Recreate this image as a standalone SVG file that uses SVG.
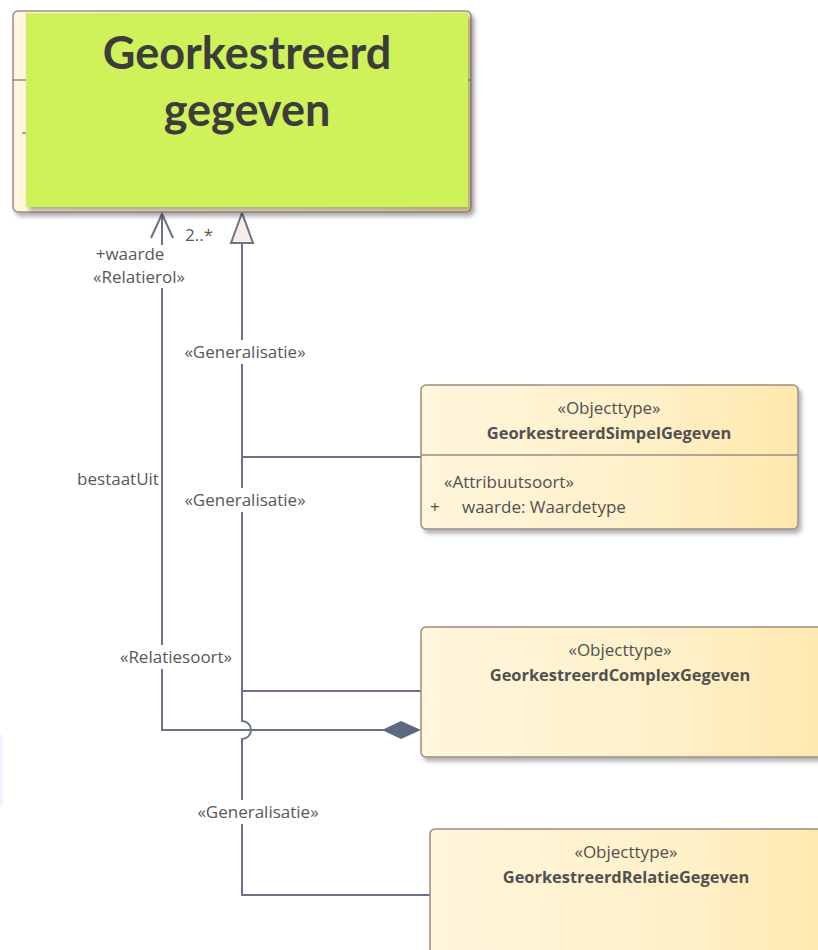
<svg xmlns="http://www.w3.org/2000/svg" width="818" height="950" viewBox="0 0 818 950">
  <style>
    .lbl { font-family: "Open Sans", "Liberation Sans", sans-serif; font-size: 17px; fill: #585858; }
    .st { font-family: "Open Sans", "Liberation Sans", sans-serif; font-size: 17px; fill: #505050; text-anchor: middle; }
    .nm { font-family: "Open Sans", "Liberation Sans", sans-serif; font-size: 16.4px; font-weight: bold; fill: #505050; text-anchor: middle; }
    .attr { font-family: "Open Sans", "Liberation Sans", sans-serif; font-size: 17px; fill: #505050; }
    .conn { fill: none; stroke: #6a7189; stroke-width: 2; }
    .box { fill: url(#cream); stroke: #9d8c84; stroke-width: 1.5; }
    .div { stroke: #9d8c84; stroke-width: 1.5; }
    .lblbg { fill: #ffffff; }
  </style>
  <defs>
    <linearGradient id="cream" x1="0" y1="0" x2="1" y2="0">
      <stop offset="0" stop-color="#fff6dc"/>
      <stop offset="0.6" stop-color="#fff0c8"/>
      <stop offset="1" stop-color="#ffe8ac"/>
    </linearGradient>
    <filter id="shadow" x="-5%" y="-5%" width="115%" height="120%">
      <feGaussianBlur in="SourceAlpha" stdDeviation="2"/>
      <feOffset dx="3" dy="4"/>
      <feComponentTransfer><feFuncA type="linear" slope="0.3"/></feComponentTransfer>
      <feMerge><feMergeNode/><feMergeNode in="SourceGraphic"/></feMerge>
    </filter>
  </defs>

  <rect width="818" height="950" fill="#ffffff"/>
  <!-- faint strip at the left margin -->
  <rect x="0" y="735" width="3" height="70" fill="#eef4fc"/>

  <!-- connectors -->
  <g id="connectors">
    <!-- bestaatUit association (composition) -->
    <path class="conn" d="M162 214 V730 H384"/>
    <path class="conn" d="M151 238 L162 214 L173 238"/>
    <polygon points="382,730 401,721 421,730 401,739" fill="#5f6883"/>
    <!-- generalisations, with a hop over the association -->
    <path class="conn" d="M242 243 V721 A9 9 0 0 1 242 739 V895 H430"/>
    <path class="conn" d="M242 457 H421"/>
    <path class="conn" d="M242 691 H421"/>
    <polygon points="242,213 231,243 253,243" fill="#f8ece8" stroke="#6a7189" stroke-width="2"/>
    <!-- labels -->
    <text class="lbl" x="185" y="241">2..*</text>
    <rect class="lblbg" x="92" y="245" width="76" height="21"/>
    <text class="lbl" x="130" y="260" text-anchor="middle">+waarde</text>
    <rect class="lblbg" x="84" y="266" width="112" height="22"/>
    <text class="lbl" x="139" y="283" text-anchor="middle">«Relatierol»</text>
    <rect class="lblbg" x="180" y="340" width="130" height="24"/>
    <text class="lbl" x="245" y="358" text-anchor="middle">«Generalisatie»</text>
    <text class="lbl" x="118" y="485" text-anchor="middle">bestaatUit</text>
    <rect class="lblbg" x="180" y="488" width="130" height="24"/>
    <text class="lbl" x="245" y="506" text-anchor="middle">«Generalisatie»</text>
    <rect class="lblbg" x="113" y="645" width="126" height="24"/>
    <text class="lbl" x="176" y="663" text-anchor="middle">«Relatiesoort»</text>
    <rect class="lblbg" x="193" y="800" width="130" height="24"/>
    <text class="lbl" x="258" y="818" text-anchor="middle">«Generalisatie»</text>
  </g>

  <!-- Georkestreerd gegeven -->
  <g id="georkestreerd-gegeven">
    <rect class="box" x="13" y="11" width="458" height="201" rx="5" filter="url(#shadow)"/>
    <line class="div" x1="13" y1="80" x2="471" y2="80"/>
    <line x1="22" y1="133" x2="27" y2="133" stroke="#6b4a3a" stroke-width="1"/>
    <rect x="26" y="13" width="442" height="194" fill="#cff25a" filter="url(#shadow)"/>
    <text x="247" y="69" font-family="Lato, 'Open Sans', sans-serif" font-weight="bold" font-size="45" fill="#3c3c3c" text-anchor="middle">Georkestreerd</text>
    <text x="247" y="126" font-family="Lato, 'Open Sans', sans-serif" font-weight="bold" font-size="45" fill="#3c3c3c" text-anchor="middle">gegeven</text>
  </g>

  <!-- GeorkestreerdSimpelGegeven -->
  <g id="simpel-gegeven">
    <rect class="box" x="421" y="385" width="377" height="144" rx="5" filter="url(#shadow)"/>
    <line class="div" x1="421" y1="455" x2="798" y2="455"/>
    <text class="st" x="609" y="414">«Objecttype»</text>
    <text class="nm" x="609" y="439">GeorkestreerdSimpelGegeven</text>
    <text class="attr" x="444" y="488">«Attribuutsoort»</text>
    <text class="attr" x="430" y="513">+</text>
    <text class="attr" x="462" y="513">waarde: Waardetype</text>
  </g>

  <!-- GeorkestreerdComplexGegeven -->
  <g id="complex-gegeven">
    <rect class="box" x="421" y="627" width="420" height="130" rx="5" filter="url(#shadow)"/>
    <text class="st" x="620" y="656">«Objecttype»</text>
    <text class="nm" x="620" y="681">GeorkestreerdComplexGegeven</text>
  </g>

  <!-- GeorkestreerdRelatieGegeven -->
  <g id="relatie-gegeven">
    <rect class="box" x="430" y="829" width="420" height="160" rx="5" filter="url(#shadow)"/>
    <text class="st" x="626" y="858">«Objecttype»</text>
    <text class="nm" x="626" y="883">GeorkestreerdRelatieGegeven</text>
  </g>
</svg>
